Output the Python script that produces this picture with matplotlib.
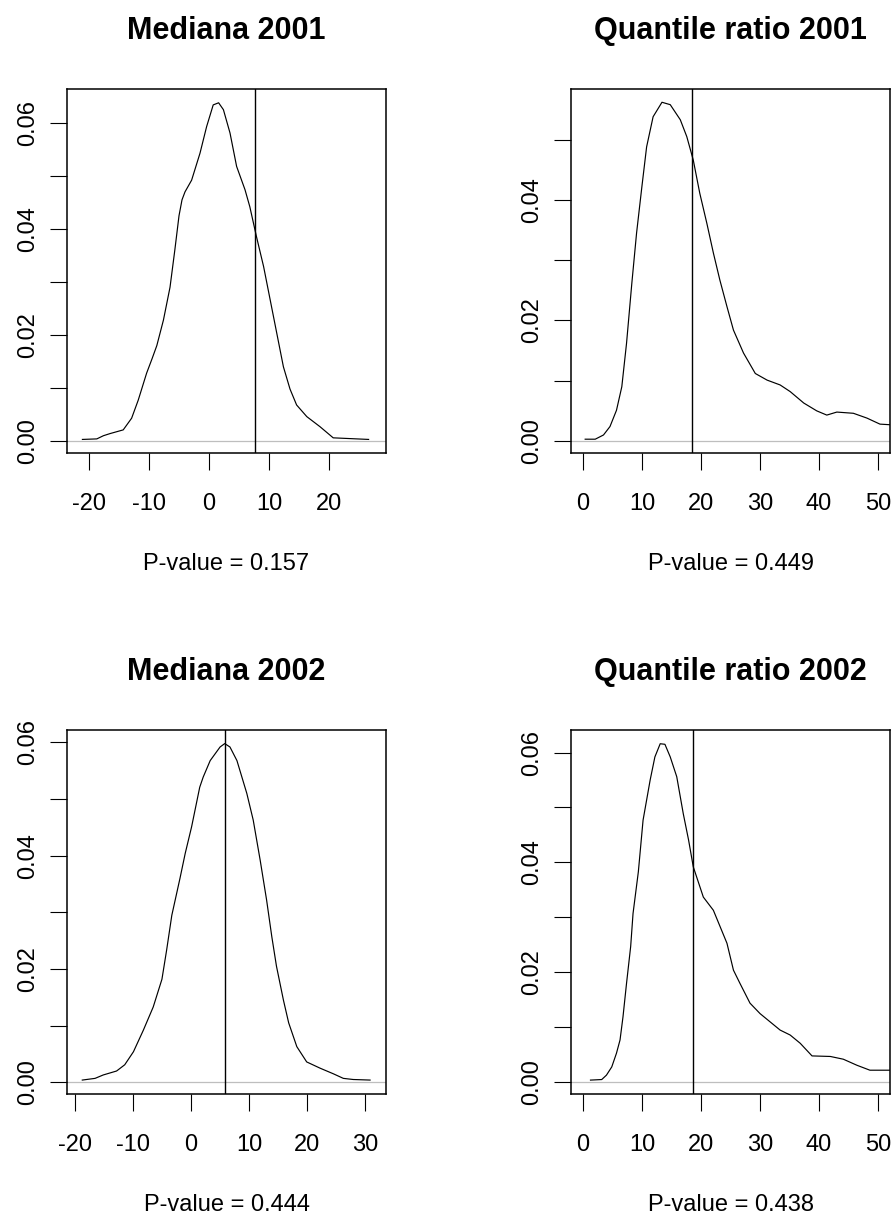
import matplotlib
matplotlib.use("Agg")
import matplotlib.pyplot as plt

plt.rcParams['font.family'] = ['Liberation Sans', 'DejaVu Sans']

# figure size in pixels
W, H = 891, 1216

# --- data ---
titles = ["Mediana 2001", "Quantile ratio 2001", "Mediana 2002", "Quantile ratio 2002"]
pvalues = ["P-value = 0.157", "P-value = 0.449", "P-value = 0.444", "P-value = 0.438"]

med01_x = [-21.1, -18.7, -17.6, -16.5, -14.3, -12.9, -11.8, -10.4, -9.5, -8.7, -7.6, -6.5,
           -5.7, -5.0, -4.5, -4.0, -2.9, -1.5, -0.4, 0.7, 1.6, 2.4, 3.5, 4.6, 6.0, 6.8, 7.9,
           9.1, 10.2, 11.3, 12.4, 13.5, 14.6, 16.3, 18.5, 20.7, 26.6]
med01_y = [0.0003, 0.0004, 0.0010, 0.0014, 0.0021, 0.0043, 0.0077, 0.0128, 0.0155, 0.0180,
           0.0228, 0.0290, 0.0360, 0.0425, 0.0455, 0.0470, 0.0492, 0.0543, 0.0593, 0.0634,
           0.0638, 0.0625, 0.0581, 0.0518, 0.0474, 0.0442, 0.0386, 0.0329, 0.0266, 0.0203,
           0.0140, 0.0098, 0.0068, 0.0046, 0.0027, 0.0006, 0.0003]

qr01_x = [0.4, 2.1, 3.5, 4.6, 5.7, 6.6, 7.4, 8.3, 9.1, 10.0, 10.8, 11.9, 13.4, 14.8, 16.5,
          17.6, 18.7, 19.8, 21.0, 22.1, 23.2, 24.4, 25.5, 27.2, 29.2, 31.2, 33.4, 35.1,
          37.4, 39.6, 41.3, 43.0, 45.8, 48.1, 50.3, 52.0]
qr01_y = [0.0003, 0.0003, 0.0010, 0.0024, 0.0051, 0.0090, 0.0162, 0.0262, 0.0345, 0.0422,
          0.0488, 0.0538, 0.0562, 0.0558, 0.0533, 0.0505, 0.0466, 0.0411, 0.0361, 0.0312,
          0.0267, 0.0223, 0.0184, 0.0146, 0.0112, 0.0101, 0.0093, 0.0082, 0.0063, 0.0050,
          0.0043, 0.0048, 0.0046, 0.0038, 0.0028, 0.0027]

med02_x = [-18.7, -16.5, -15.1, -12.8, -11.4, -9.9, -8.2, -6.5, -5.0, -4.2, -3.3, -1.9, -1.0,
           0.1, 1.5, 2.1, 3.3, 5.0, 5.8, 6.7, 7.9, 9.6, 10.7, 11.9, 13.0, 13.9, 14.7, 15.9,
           16.8, 18.2, 19.9, 22.2, 24.5, 26.2, 27.9, 30.8]
med02_y = [0.0004, 0.0007, 0.0013, 0.0020, 0.0031, 0.0054, 0.0092, 0.0133, 0.0182, 0.0233,
           0.0295, 0.0360, 0.0404, 0.0451, 0.0521, 0.0539, 0.0568, 0.0592, 0.0598, 0.0592,
           0.0568, 0.0510, 0.0463, 0.0392, 0.0322, 0.0257, 0.0205, 0.0145, 0.0105, 0.0063,
           0.0036, 0.0025, 0.0015, 0.0007, 0.0005, 0.0004]

qr02_x = [1.3, 3.2, 4.0, 4.9, 5.7, 6.3, 6.8, 7.4, 8.1, 8.5, 9.4, 10.2, 11.4, 12.2, 13.1, 13.9,
          14.8, 15.9, 17.0, 17.9, 18.7, 20.4, 22.1, 24.4, 25.5, 26.6, 28.3, 30.0, 31.7, 33.4,
          35.1, 36.8, 38.8, 41.9, 44.1, 46.4, 48.6, 52.0]
qr02_y = [0.0004, 0.0005, 0.0013, 0.0028, 0.0053, 0.0077, 0.0119, 0.0180, 0.0247, 0.0307,
          0.0383, 0.0477, 0.0550, 0.0592, 0.0616, 0.0615, 0.0592, 0.0556, 0.0489, 0.0441,
          0.0392, 0.0337, 0.0313, 0.0253, 0.0204, 0.0180, 0.0144, 0.0125, 0.0110, 0.0095,
          0.0086, 0.0071, 0.0048, 0.0047, 0.0042, 0.0031, 0.0022, 0.0022]

curves_x = [med01_x, qr01_x, med02_x, qr02_x]
curves_y = [med01_y, qr01_y, med02_y, qr02_y]
observed = [7.7, 18.4, 5.9, 18.7]   # vertical lines

xticks = [[-20, -10, 0, 10, 20], [0, 10, 20, 30, 40, 50],
          [-20, -10, 0, 10, 20, 30], [0, 10, 20, 30, 40, 50]]
yticks = [[0.00, 0.01, 0.02, 0.03, 0.04, 0.05, 0.06],
          [0.00, 0.01, 0.02, 0.03, 0.04, 0.05],
          [0.00, 0.01, 0.02, 0.03, 0.04, 0.05, 0.06],
          [0.00, 0.01, 0.02, 0.03, 0.04, 0.05, 0.06]]

xlims = [(-23.67, 29.5), (-2.0, 52.0), (-21.33, 33.54), (-2.0, 52.0)]
ylims = [(-0.00226, 0.0664), (-0.00199, 0.0584), (-0.00206, 0.0622), (-0.00213, 0.0641)]

# axes boxes in pixels: left, right, top, bottom
boxes = [(67, 386, 89, 453), (571, 890, 89, 453), (67, 386, 730, 1094), (571, 890, 730, 1094)]

fig = plt.figure(figsize=(W / 100, H / 100), dpi=100)

for i in range(4):
    l, r, t, b = boxes[i]
    ax = fig.add_axes([l / W, 1 - b / H, (r - l) / W, (b - t) / H])
    ax.axhline(0, color='#BEBEBE', lw=0.9, zorder=1)
    ax.plot(curves_x[i], curves_y[i], color='black', lw=0.85, zorder=2)
    ax.axvline(observed[i], color='black', lw=1.0, zorder=3)
    ax.set_xlim(*xlims[i])
    ax.set_ylim(*ylims[i])

    ax.set_xticks(xticks[i])
    ax.set_xticklabels([str(v) for v in xticks[i]])
    ax.set_yticks(yticks[i])
    ax.set_yticklabels(["%.2f" % v if round(v * 100) % 2 == 0 else "" for v in yticks[i]])
    ax.tick_params(axis='both', direction='out', length=12, width=0.8,
                   labelsize=17, colors='black')
    ax.tick_params(axis='x', pad=17)
    ax.tick_params(axis='y', pad=8)
    plt.setp(ax.get_yticklabels(), rotation=90, va='center')
    for s in ax.spines.values():
        s.set_linewidth(1.1)
        s.set_color('black')

    cx = (l + r) / 2 / W
    fig.text(cx, 1 - (t - 58) / H, titles[i], ha='center', va='center',
             fontsize=22, fontweight='bold')
    fig.text(cx, 1 - (b + 111) / H, pvalues[i], ha='center', va='center', fontsize=17)

fig.savefig("out.png", dpi=100)
